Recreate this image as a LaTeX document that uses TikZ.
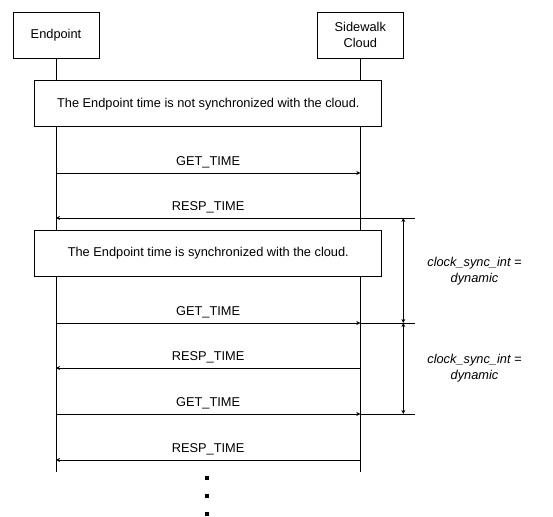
\documentclass[tikz,border=0pt]{standalone}
\usepackage{fontspec}
\setmainfont{Liberation Sans}
\usetikzlibrary{arrows.meta}

\begin{document}
\begin{tikzpicture}[x=1pt, y=-1pt, line width=0.7pt,
    every node/.style={font=\fontsize{12.8}{15.5}\selectfont},
    actor/.style={draw, fill=white, minimum width=86pt, minimum height=46pt, align=center, inner sep=2pt},
    notebox/.style={draw, fill=white, minimum width=347pt, minimum height=46pt, inner sep=2pt},
    msg/.style={-{Stealth[length=4pt, width=4pt]}},
    interval/.style={{Stealth[length=4pt, width=4pt]}-{Stealth[length=4pt, width=4pt]}},
    msglabel/.style={above=1pt}]
			\useasboundingbox (0,0) rectangle (553,516);
			\node[actor] (ep) at (56,35) {Endpoint};
			\node[actor] (sc) at (360.3,35) {Sidewalk\\Cloud};
			\coordinate (ep end) at (56,472);
			\coordinate (sc end) at (360.3,472);
			\draw (ep.south) -- (ep end);
			\draw (sc.south) -- (sc end);
			\node[notebox] (unsync) at (208.3,103.7) {The Endpoint time is not synchronized with the cloud.};
			\node[notebox] (sync) at (208.3,253.3) {The Endpoint time is synchronized with the cloud.};
			\foreach \y/\n in {173/1, 218/2, 323/3, 368/4, 414/5, 460/6} {
				\coordinate (e\n) at (56,\y);
				\coordinate (c\n) at (360.3,\y);
			}
			\draw[msg] (e1) -- node[msglabel] {GET\_TIME} (c1);
			\draw[msg] (c2) -- node[msglabel] {RESP\_TIME} (e2);
			\draw[msg] (e3) -- node[msglabel] {GET\_TIME} (c3);
			\draw[msg] (c4) -- node[msglabel] {RESP\_TIME} (e4);
			\draw[msg] (e5) -- node[msglabel] {GET\_TIME} (c5);
			\draw[msg] (c6) -- node[msglabel] {RESP\_TIME} (e6);
			% interval marks
			\coordinate (t1) at (415,218);
			\coordinate (t2) at (415,323);
			\coordinate (t3) at (415,414);
			\coordinate (d1) at (403.3,218);
			\coordinate (d2) at (403.3,323);
			\coordinate (d3) at (403.3,414);
			\draw (c2) -- (t1);
			\draw (c3) -- (t2);
			\draw (c5) -- (t3);
			\draw[interval] (d1) -- (d2);
			\draw[interval] (d2) -- (d3);
			\node[align=center, font=\fontsize{12.8}{16}\selectfont\itshape] (int1) at (474.5,271) {clock\_sync\_int =\\dynamic};
			\node[align=center, font=\fontsize{12.8}{16}\selectfont\itshape] (int2) at (474.5,368.5) {clock\_sync\_int =\\dynamic};
			\foreach \y in {478,496,514}
				\fill (205,\y-2) rectangle ++(4,4);
		\end{tikzpicture}
\end{document}
